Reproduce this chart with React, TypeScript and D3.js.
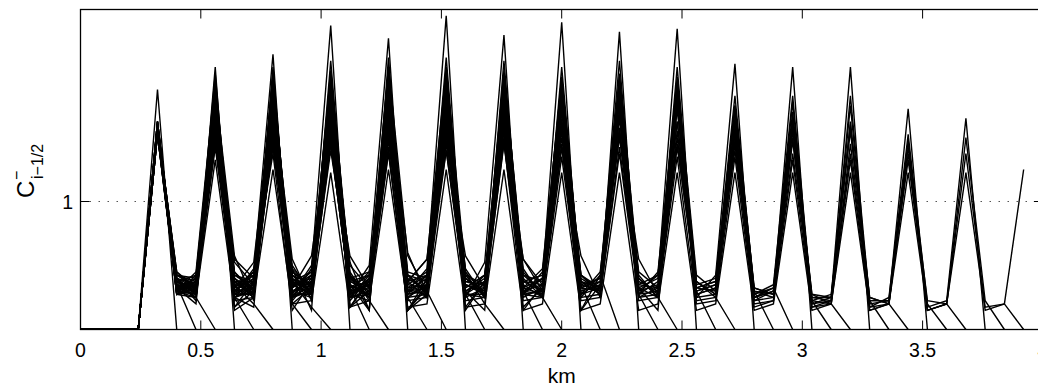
import React from 'react';
import * as d3 from 'd3';

// grid of cell interfaces along the reach (km)
const kmGrid = [
  0, 0.08, 0.16, 0.24, 0.32, 0.4, 0.48, 0.56, 0.64, 0.72, 0.8, 0.88, 0.96, 1.04, 1.12, 1.2,
  1.28, 1.36, 1.44, 1.52, 1.6, 1.68, 1.76, 1.84, 1.92, 2.0, 2.08, 2.16, 2.24, 2.32, 2.4, 2.48,
  2.56, 2.64, 2.72, 2.8, 2.88, 2.96, 3.04, 3.12, 3.2, 3.28, 3.36, 3.44, 3.52, 3.6, 3.68, 3.76,
  3.84, 3.92,
];
const leadInCells = 4; // cells before the first wetted interface (at base level)
const BASE = 0.6; // value of the not-yet-reached cells (bottom of frame)

const xTicks = [0, 0.5, 1, 1.5, 2, 2.5, 3, 3.5, 4];
const xTickLabels = ['0', '0.5', '1', '1.5', '2', '2.5', '3', '3.5', '4'];
const yTicks = [1];
const yTickLabels = ['1'];
const xDomain = [0, 4];
const yDomain = [0.6, 1.6];

// one array per time snapshot; values start at km 0.32, the front advances one cell per snapshot
const courantSnapshots: number[][] = [
  [1.35],
  [1.25, 0.74],
  [1.24, 0.72, 0.70],
  [1.23, 0.75, 0.71, 1.42],
  [1.25, 0.71, 0.73, 1.40, 0.70],
  [1.22, 0.76, 0.69, 1.36, 0.74, 0.68],
  [1.24, 0.73, 0.74, 1.31, 0.72, 0.78, 1.46],
  [1.23, 0.78, 0.72, 1.27, 0.66, 0.70, 1.42, 0.68],
  [1.21, 0.72, 0.76, 1.33, 0.81, 0.74, 1.38, 0.75, 0.67],
  [1.24, 0.74, 0.70, 1.22, 0.73, 0.81, 1.33, 0.70, 0.79, 1.55],
  [1.22, 0.77, 0.75, 1.29, 0.70, 0.67, 1.28, 0.80, 0.71, 1.44, 0.73],
  [1.25, 0.71, 0.72, 1.35, 0.83, 0.69, 1.40, 0.72, 0.75, 1.40, 0.78, 0.69],
  [1.23, 0.75, 0.77, 1.19, 0.82, 0.76, 1.21, 0.68, 0.73, 1.36, 0.71, 0.80, 1.51],
  [1.22, 0.73, 0.68, 1.30, 0.78, 0.71, 1.35, 0.76, 0.70, 1.30, 0.74, 0.66, 1.45, 0.70],
  [1.24, 0.76, 0.74, 1.25, 0.71, 0.79, 1.17, 0.73, 0.83, 1.25, 0.69, 0.76, 1.41, 0.77, 0.72],
  [1.21, 0.72, 0.78, 1.38, 0.74, 0.73, 1.30, 0.79, 0.66, 1.39, 0.76, 0.70, 1.36, 0.72, 0.79, 1.58],
  [1.23, 0.78, 0.73, 1.24, 0.67, 0.75, 1.39, 0.71, 0.80, 1.18, 0.72, 0.78, 1.29, 0.66, 0.74, 1.45, 0.71],
  [1.25, 0.74, 0.70, 1.32, 0.76, 0.70, 1.25, 0.74, 0.71, 1.33, 0.80, 0.73, 1.20, 0.75, 0.82, 1.41, 0.78, 0.68],
  [1.22, 0.71, 0.75, 1.21, 0.73, 0.78, 1.36, 0.69, 0.76, 1.27, 0.71, 0.69, 1.39, 0.78, 0.76, 1.34, 0.70, 0.81, 1.52],
  [1.24, 0.75, 0.72, 1.34, 0.67, 0.72, 1.19, 0.77, 0.74, 1.41, 0.75, 0.77, 1.25, 0.66, 0.73, 1.23, 0.76, 0.71, 1.44, 0.72],
  [1.23, 0.73, 0.76, 1.27, 0.77, 0.74, 1.32, 0.82, 0.69, 1.22, 0.70, 0.72, 1.33, 0.74, 0.78, 1.39, 0.67, 0.75, 1.40, 0.79, 0.70],
  [1.21, 0.76, 0.71, 1.37, 0.72, 0.77, 1.27, 0.78, 0.73, 1.35, 0.77, 0.70, 1.16, 0.66, 0.71, 1.29, 0.79, 0.70, 1.35, 0.71, 0.76, 1.56],
  [1.24, 0.72, 0.74, 1.18, 0.75, 0.71, 1.40, 0.70, 0.77, 1.29, 0.67, 0.75, 1.37, 0.70, 0.75, 1.18, 0.71, 0.77, 1.27, 0.82, 0.72, 1.42, 0.74],
  [1.22, 0.77, 0.73, 1.31, 0.71, 0.75, 1.23, 0.75, 0.72, 1.20, 0.83, 0.73, 1.28, 0.73, 0.77, 1.36, 0.74, 0.72, 1.38, 0.73, 0.79, 1.37, 0.70, 0.77],
  [1.25, 0.74, 0.72, 1.26, 0.78, 0.72, 1.34, 0.73, 0.78, 1.38, 0.71, 0.74, 1.42, 0.83, 0.72, 1.25, 0.77, 0.74, 1.19, 0.66, 0.74, 1.31, 0.77, 0.71, 1.53],
  [1.23, 0.71, 0.77, 1.35, 0.73, 0.78, 1.15, 0.66, 0.75, 1.31, 0.76, 0.78, 1.23, 0.72, 0.74, 1.42, 0.72, 0.66, 1.33, 0.78, 0.71, 1.25, 0.73, 0.75, 1.44, 0.71],
  [1.24, 0.75, 0.70, 1.21, 0.70, 0.74, 1.37, 0.77, 0.71, 1.25, 0.74, 0.71, 1.33, 0.84, 0.70, 1.21, 0.75, 0.73, 1.24, 0.72, 0.76, 1.39, 0.75, 0.73, 1.40, 0.76, 0.70],
  [1.22, 0.73, 0.75, 1.29, 0.76, 0.71, 1.29, 0.74, 0.76, 1.36, 0.67, 0.76, 1.19, 0.71, 0.77, 1.33, 0.78, 0.71, 1.41, 0.77, 0.72, 1.17, 0.83, 0.70, 1.35, 0.73, 0.76, 1.54],
  [1.23, 0.76, 0.73, 1.33, 0.72, 0.76, 1.21, 0.79, 0.73, 1.16, 0.77, 0.66, 1.38, 0.74, 0.73, 1.27, 0.66, 0.75, 1.30, 0.74, 0.70, 1.33, 0.71, 0.78, 1.28, 0.78, 0.73, 1.42, 0.72],
  [1.21, 0.72, 0.71, 1.24, 0.77, 0.73, 1.38, 0.72, 0.70, 1.39, 0.70, 0.77, 1.26, 0.77, 0.71, 1.38, 0.76, 0.72, 1.20, 0.82, 0.74, 1.28, 0.76, 0.72, 1.37, 0.71, 0.78, 1.36, 0.75, 0.70],
  [1.24, 0.77, 0.76, 1.36, 0.71, 0.74, 1.26, 0.75, 0.78, 1.23, 0.75, 0.72, 1.35, 0.72, 0.76, 1.16, 0.73, 0.77, 1.36, 0.67, 0.73, 1.39, 0.74, 0.76, 1.21, 0.82, 0.71, 1.31, 0.70, 0.77, 1.43],
  [1.22, 0.74, 0.72, 1.20, 0.75, 0.70, 1.33, 0.70, 0.74, 1.33, 0.73, 0.75, 1.22, 0.75, 0.82, 1.31, 0.77, 0.70, 1.26, 0.75, 0.77, 1.22, 0.66, 0.74, 1.34, 0.74, 0.77, 1.25, 0.73, 0.75, 1.33, 0.72],
  [1.23, 0.71, 0.74, 1.30, 0.74, 0.77, 1.17, 0.76, 0.72, 1.27, 0.81, 0.66, 1.40, 0.70, 0.74, 1.35, 0.71, 0.75, 1.33, 0.73, 0.71, 1.35, 0.77, 0.72, 1.26, 0.72, 0.74, 1.39, 0.77, 0.72, 1.24, 0.70, 0.73],
  [1.25, 0.75, 0.73, 1.22, 0.70, 0.72, 1.31, 0.73, 0.77, 1.19, 0.71, 0.76, 1.29, 0.76, 0.72, 1.23, 0.74, 0.72, 1.39, 0.77, 0.75, 1.18, 0.66, 0.77, 1.39, 0.75, 0.72, 1.20, 0.74, 0.76, 1.30, 0.73, 0.71, 1.42],
  [1.22, 0.72, 0.76, 1.34, 0.77, 0.75, 1.24, 0.78, 0.74, 1.37, 0.76, 0.73, 1.17, 0.66, 0.76, 1.40, 0.72, 0.76, 1.22, 0.71, 0.78, 1.30, 0.75, 0.71, 1.17, 0.71, 0.75, 1.34, 0.71, 0.73, 1.21, 0.71, 0.74, 1.33, 0.69],
  [1.23, 0.76, 0.71, 1.27, 0.72, 0.73, 1.36, 0.71, 0.71, 1.24, 0.73, 0.77, 1.36, 0.71, 0.73, 1.19, 0.83, 0.73, 1.35, 0.75, 0.72, 1.37, 0.73, 0.76, 1.31, 0.77, 0.70, 1.17, 0.75, 0.71, 1.26, 0.69, 0.72, 1.25, 0.71, 0.68],
  [1.24, 0.73, 0.74, 1.18, 0.75, 0.70, 1.20, 0.74, 0.76, 1.30, 0.77, 0.71, 1.24, 0.75, 0.77, 1.29, 0.71, 0.71, 1.18, 0.72, 0.74, 1.24, 0.77, 0.73, 1.36, 0.73, 0.66, 1.29, 0.72, 0.74, 1.16, 0.72, 0.70, 1.19, 0.70, 0.70, 1.42],
  [1.22, 0.75, 0.72, 1.32, 0.70, 0.76, 1.29, 0.77, 0.72, 1.21, 0.72, 0.74, 1.32, 0.72, 0.71, 1.36, 0.75, 0.74, 1.31, 0.76, 0.70, 1.33, 0.71, 0.75, 1.23, 0.70, 0.73, 1.37, 0.75, 0.71, 1.23, 0.70, 0.72, 1.31, 0.68, 0.69, 1.33, 0.69],
  [1.23, 0.72, 0.75, 1.25, 0.76, 0.72, 1.34, 0.72, 0.75, 1.35, 0.67, 0.72, 1.20, 0.77, 0.75, 1.24, 0.73, 0.77, 1.25, 0.73, 0.76, 1.20, 0.74, 0.72, 1.33, 0.76, 0.71, 1.22, 0.73, 0.75, 1.28, 0.73, 0.71, 1.22, 0.71, 0.70, 1.25, 0.70, 0.68],
  [1.21, 0.74, 0.73, 1.36, 0.73, 0.74, 1.22, 0.75, 0.73, 1.26, 0.70, 0.75, 1.34, 0.73, 0.74, 1.32, 0.76, 0.72, 1.37, 0.71, 0.72, 1.32, 0.72, 0.74, 1.20, 0.72, 0.77, 1.33, 0.71, 0.73, 1.19, 0.71, 0.73, 1.28, 0.69, 0.68, 1.18, 0.69, 0.69, 1.29],
  [1.24, 0.77, 0.74, 1.23, 0.71, 0.71, 1.31, 0.73, 0.77, 1.32, 0.74, 0.70, 1.27, 0.71, 0.72, 1.21, 0.72, 0.75, 1.22, 0.75, 0.74, 1.26, 0.75, 0.71, 1.29, 0.74, 0.73, 1.18, 0.73, 0.72, 1.30, 0.72, 0.71, 1.15, 0.70, 0.69, 1.30, 0.67, 0.70, 1.21, 0.68],
  [1.22, 0.73, 0.71, 1.29, 0.75, 0.75, 1.26, 0.71, 0.71, 1.18, 0.72, 0.73, 1.31, 0.75, 0.70, 1.38, 0.74, 0.71, 1.33, 0.72, 0.71, 1.17, 0.71, 0.73, 1.27, 0.71, 0.72, 1.36, 0.72, 0.74, 1.21, 0.70, 0.72, 1.24, 0.69, 0.71, 1.22, 0.70, 0.68, 1.17, 0.69, 0.68],
  [1.23, 0.71, 0.73, 1.21, 0.72, 0.72, 1.37, 0.74, 0.74, 1.29, 0.76, 0.72, 1.22, 0.72, 0.73, 1.27, 0.70, 0.73, 1.28, 0.70, 0.73, 1.35, 0.73, 0.72, 1.34, 0.73, 0.70, 1.25, 0.70, 0.71, 1.25, 0.69, 0.70, 1.20, 0.68, 0.70, 1.15, 0.68, 0.69, 1.13, 0.67, 0.69, 1.26],
  [1.24, 0.74, 0.72, 1.26, 0.70, 0.73, 1.18, 0.72, 0.73, 1.34, 0.71, 0.74, 1.35, 0.70, 0.71, 1.16, 0.71, 0.70, 1.19, 0.71, 0.70, 1.24, 0.70, 0.71, 1.15, 0.70, 0.71, 1.30, 0.69, 0.70, 1.18, 0.68, 0.69, 1.26, 0.67, 0.69, 1.24, 0.67, 0.68, 1.19, 0.66, 0.68, 1.20, 0.69],
  [1.22, 0.72, 0.71, 1.17, 0.71, 0.71, 1.23, 0.70, 0.72, 1.22, 0.70, 0.71, 1.15, 0.69, 0.70, 1.30, 0.69, 0.70, 1.30, 0.69, 0.70, 1.14, 0.69, 0.70, 1.23, 0.69, 0.70, 1.14, 0.68, 0.69, 1.14, 0.67, 0.69, 1.13, 0.67, 0.68, 1.13, 0.66, 0.68, 1.15, 0.66, 0.68, 1.15, 0.67, 0.68],
  [1.21, 0.71, 0.70, 1.13, 0.69, 0.70, 1.10, 0.68, 0.69, 1.09, 0.67, 0.69, 1.10, 0.67, 0.68, 1.10, 0.67, 0.68, 1.10, 0.66, 0.68, 1.09, 0.66, 0.68, 1.09, 0.66, 0.68, 1.09, 0.66, 0.68, 1.09, 0.66, 0.68, 1.09, 0.66, 0.68, 1.09, 0.66, 0.68, 1.09, 0.66, 0.68, 1.09, 0.66, 0.68, 1.10],
];

const W = 1038;
const H = 387;
const FONT = "'Liberation Sans', Arial, Helvetica, sans-serif";

export default function App() {
  const left = 80.5;
  const right = 1042.9;
  const top = 9.5;
  const bottom = 329.5;
  const x = d3.scaleLinear().domain(xDomain).range([left, right]);
  const y = d3.scaleLinear().domain(yDomain).range([bottom, top]);
  const line = d3
    .line<[number, number]>()
    .x((d) => x(d[0]))
    .y((d) => y(d[1]));

  const paths = courantSnapshots.map((vals) => {
    const pts: [number, number][] = [];
    for (let k = 0; k < leadInCells; k++) pts.push([kmGrid[k], BASE]);
    vals.forEach((v, j) => pts.push([kmGrid[leadInCells + j], v]));
    const next = leadInCells + vals.length;
    if (next < kmGrid.length) pts.push([kmGrid[next], BASE]);
    return line(pts) || '';
  });

  const tickLen = 9;

  return (
    <svg
      width={W}
      height={H}
      style={{ position: 'absolute', left: 0, top: 0, background: '#fff' }}
      fontFamily={FONT}
    >
      <rect x={0} y={0} width={W} height={H} fill="#fff" />
      <defs>
        <clipPath id="plotClip">
          <rect x={left} y={top} width={right - left} height={bottom - top} />
        </clipPath>
      </defs>

      {/* grid line at y ticks */}
      {yTicks.map((t) => (
        <line
          key={'g' + t}
          x1={left}
          x2={right}
          y1={y(t)}
          y2={y(t)}
          stroke="#555"
          strokeWidth={1}
          strokeDasharray="1.5 7.5"
        />
      ))}

      <g clipPath="url(#plotClip)" fill="none" stroke="#000" strokeWidth={1.4} strokeLinejoin="miter">
        {paths.map((d, i) => (
          <path key={i} d={d} />
        ))}
      </g>

      {/* box */}
      <rect x={left} y={top} width={right - left} height={bottom - top} fill="none" stroke="#000" strokeWidth={1.3} />

      {/* x ticks */}
      {xTicks.map((t, i) => (
        <g key={'x' + t}>
          <line x1={x(t)} x2={x(t)} y1={bottom} y2={bottom - tickLen} stroke="#000" strokeWidth={1} />
          <line x1={x(t)} x2={x(t)} y1={top} y2={top + tickLen} stroke="#000" strokeWidth={1} />
          <text x={x(t)} y={357} textAnchor="middle" fontSize={19.5} fill="#000">
            {xTickLabels[i]}
          </text>
        </g>
      ))}

      {/* y ticks */}
      {yTicks.map((t, i) => (
        <g key={'y' + t}>
          <line x1={left} x2={left + tickLen} y1={y(t)} y2={y(t)} stroke="#000" strokeWidth={1} />
          <line x1={right} x2={right - tickLen} y1={y(t)} y2={y(t)} stroke="#000" strokeWidth={1} />
          <text x={73} y={y(t) + 7} textAnchor="end" fontSize={19.5} fill="#000">
            {yTickLabels[i]}
          </text>
        </g>
      ))}

      {/* axis labels */}
      <text x={x(2)} y={383} textAnchor="middle" fontSize={21} fill="#000">
        km
      </text>
      <g transform="translate(34,198) rotate(-90)" fill="#000">
        <text x={0} y={0} fontSize={24}>C</text>
        <text x={18} y={-12} fontSize={16}>−</text>
        <text x={19} y={9} fontSize={16}>i−1/2</text>
      </g>
    </svg>
  );
}
